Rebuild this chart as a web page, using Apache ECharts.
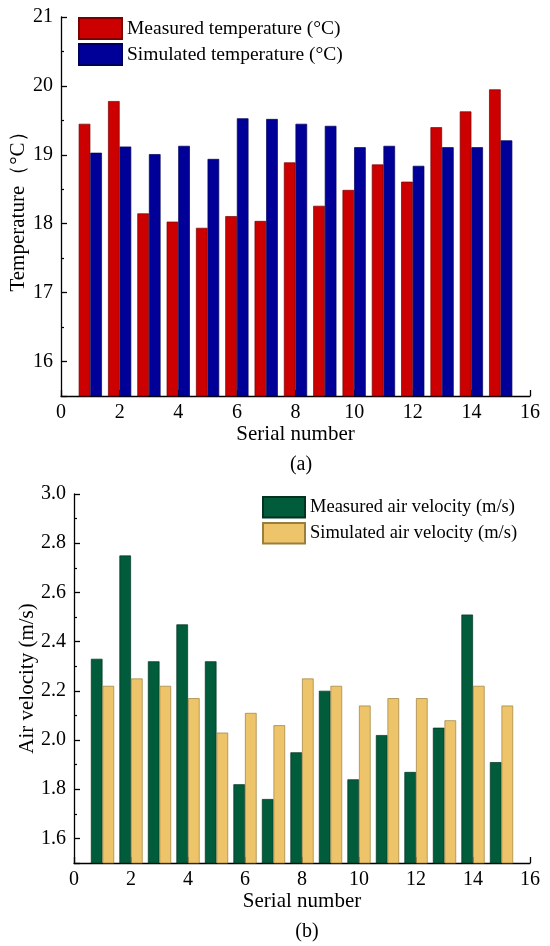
<!DOCTYPE html>
<html>
<head>
<meta charset="utf-8">
<style>
  html, body { margin: 0; padding: 0; background: #fff; }
  #chart { width: 550px; height: 946px; }
</style>
<script src="https://cdn.jsdelivr.net/npm/echarts@6/dist/echarts.min.js"></script>
</head>
<body>
<div id="chart"></div>
<script>
// serial numbers 1..15
const serials = [1, 2, 3, 4, 5, 6, 7, 8, 9, 10, 11, 12, 13, 14, 15];

// (a) temperature, °C
const measuredTemp = [19.45, 19.78, 18.15, 18.03, 17.94, 18.11, 18.04, 18.89, 18.26, 18.49, 18.86, 18.61, 19.40, 19.63, 19.95];
const simulatedTemp = [19.03, 19.12, 19.01, 19.13, 18.94, 19.53, 19.52, 19.45, 19.42, 19.11, 19.13, 18.84, 19.11, 19.11, 19.21];

// (b) air velocity, m/s
const measuredVel = [2.33, 2.75, 2.32, 2.47, 2.32, 1.82, 1.76, 1.95, 2.20, 1.84, 2.02, 1.87, 2.05, 2.51, 1.91];
const simulatedVel = [2.22, 2.25, 2.22, 2.17, 2.03, 2.11, 2.06, 2.25, 2.22, 2.14, 2.17, 2.17, 2.08, 2.22, 2.14];

const FONT = "'Liberation Serif', 'Times New Roman', serif";

const pair = (ys) => serials.map((x, i) => [x, ys[i]]);

const xAxisBase = (gridIndex) => ({
    gridIndex: gridIndex,
    type: 'value',
    min: 0,
    max: 16,
    interval: 2,
    name: 'Serial number',
    nameLocation: 'middle',
    nameGap: 28,
    nameMoveOverlap: false,
    nameTextStyle: { fontFamily: FONT, fontSize: 21, color: '#000' },
    axisLine: { lineStyle: { color: '#000', width: 1.3 } },
    axisTick: { inside: true, length: 6, lineStyle: { color: '#000', width: 1.3 } },
    axisLabel: { fontFamily: FONT, fontSize: 20, color: '#000', margin: 7 },
    splitLine: { show: false }
});

const yAxisBase = {
    type: 'value',
    nameLocation: 'middle',
    nameMoveOverlap: false,
    nameTextStyle: { fontFamily: FONT, fontSize: 21, color: '#000' },
    axisLine: { show: true, lineStyle: { color: '#000', width: 1.3 } },
    axisTick: { show: true, inside: true, length: 6, lineStyle: { color: '#000', width: 1.3 } },
    minorTick: { show: true, splitNumber: 2, length: 3, lineStyle: { color: '#000', width: 1.2 } },
    splitLine: { show: false }
};

const barSeries = (name, data, xi, yi, color, border, width) => ({
    type: 'bar',
    name: name,
    xAxisIndex: xi,
    yAxisIndex: yi,
    data: data,
    barWidth: width,
    barGap: '0%',
    itemStyle: { color: color, borderColor: border, borderWidth: 0.7 },
    emphasis: { disabled: true },
    animation: false
});

const chart = echarts.init(document.getElementById('chart'));

chart.setOption({
    backgroundColor: '#fff',
    animation: false,
    title: [
        { text: '(a)', left: 296, top: 450, textAlign: 'center',
          textStyle: { fontFamily: FONT, fontSize: 20, fontWeight: 'normal', color: '#000' } },
        { text: '(b)', left: 302, top: 917, textAlign: 'center',
          textStyle: { fontFamily: FONT, fontSize: 20, fontWeight: 'normal', color: '#000' } }
    ],
    legend: [
        {
            data: ['Measured temperature (°C)', 'Simulated temperature (°C)'],
            orient: 'vertical', left: 73, top: 12,
            itemWidth: 43, itemHeight: 21, itemGap: 3,
            icon: 'rect',
            textStyle: { fontFamily: FONT, fontSize: 19.5, color: '#000' }
        },
        {
            data: ['Measured air velocity (m/s)', 'Simulated air velocity (m/s)'],
            orient: 'vertical', left: 257, top: 491,
            itemWidth: 42, itemHeight: 20.5, itemGap: 3.5,
            icon: 'rect',
            textStyle: { fontFamily: FONT, fontSize: 18.5, color: '#000' }
        }
    ],
    grid: [
        { left: 61, right: 20, top: 17, height: 379, outerBoundsMode: 'none' },
        { left: 74, right: 20, top: 494, height: 369, outerBoundsMode: 'none' }
    ],
    xAxis: [xAxisBase(0), xAxisBase(1)],
    yAxis: [
        Object.assign({}, yAxisBase, {
            gridIndex: 0,
            min: 15.5,
            max: 21,
            splitNumber: 5,
            name: 'Temperature（°C）',
            nameGap: 32,
            axisLabel: { fontFamily: FONT, fontSize: 20, color: '#000', margin: 8, showMinLabel: false }
        }),
        Object.assign({}, yAxisBase, {
            gridIndex: 1,
            min: 1.5,
            max: 3.0,
            splitNumber: 7,
            name: 'Air velocity (m/s)',
            nameGap: 36,
            axisLabel: {
                fontFamily: FONT, fontSize: 20, color: '#000', margin: 8, showMinLabel: false,
                formatter: (v) => v.toFixed(1)
            }
        })
    ],
    series: [
        barSeries('Measured temperature (°C)', pair(measuredTemp), 0, 0, '#CC0000', '#7a0000', 11.6),
        barSeries('Simulated temperature (°C)', pair(simulatedTemp), 0, 0, '#000099', '#00005a', 11.6),
        barSeries('Measured air velocity (m/s)', pair(measuredVel), 1, 1, '#005C3A', '#003322', 11.6),
        barSeries('Simulated air velocity (m/s)', pair(simulatedVel), 1, 1, '#EDC46A', '#9C7E3C', 11.6)
    ]
});

window.addEventListener('resize', () => chart.resize());
</script>
</body>
</html>
